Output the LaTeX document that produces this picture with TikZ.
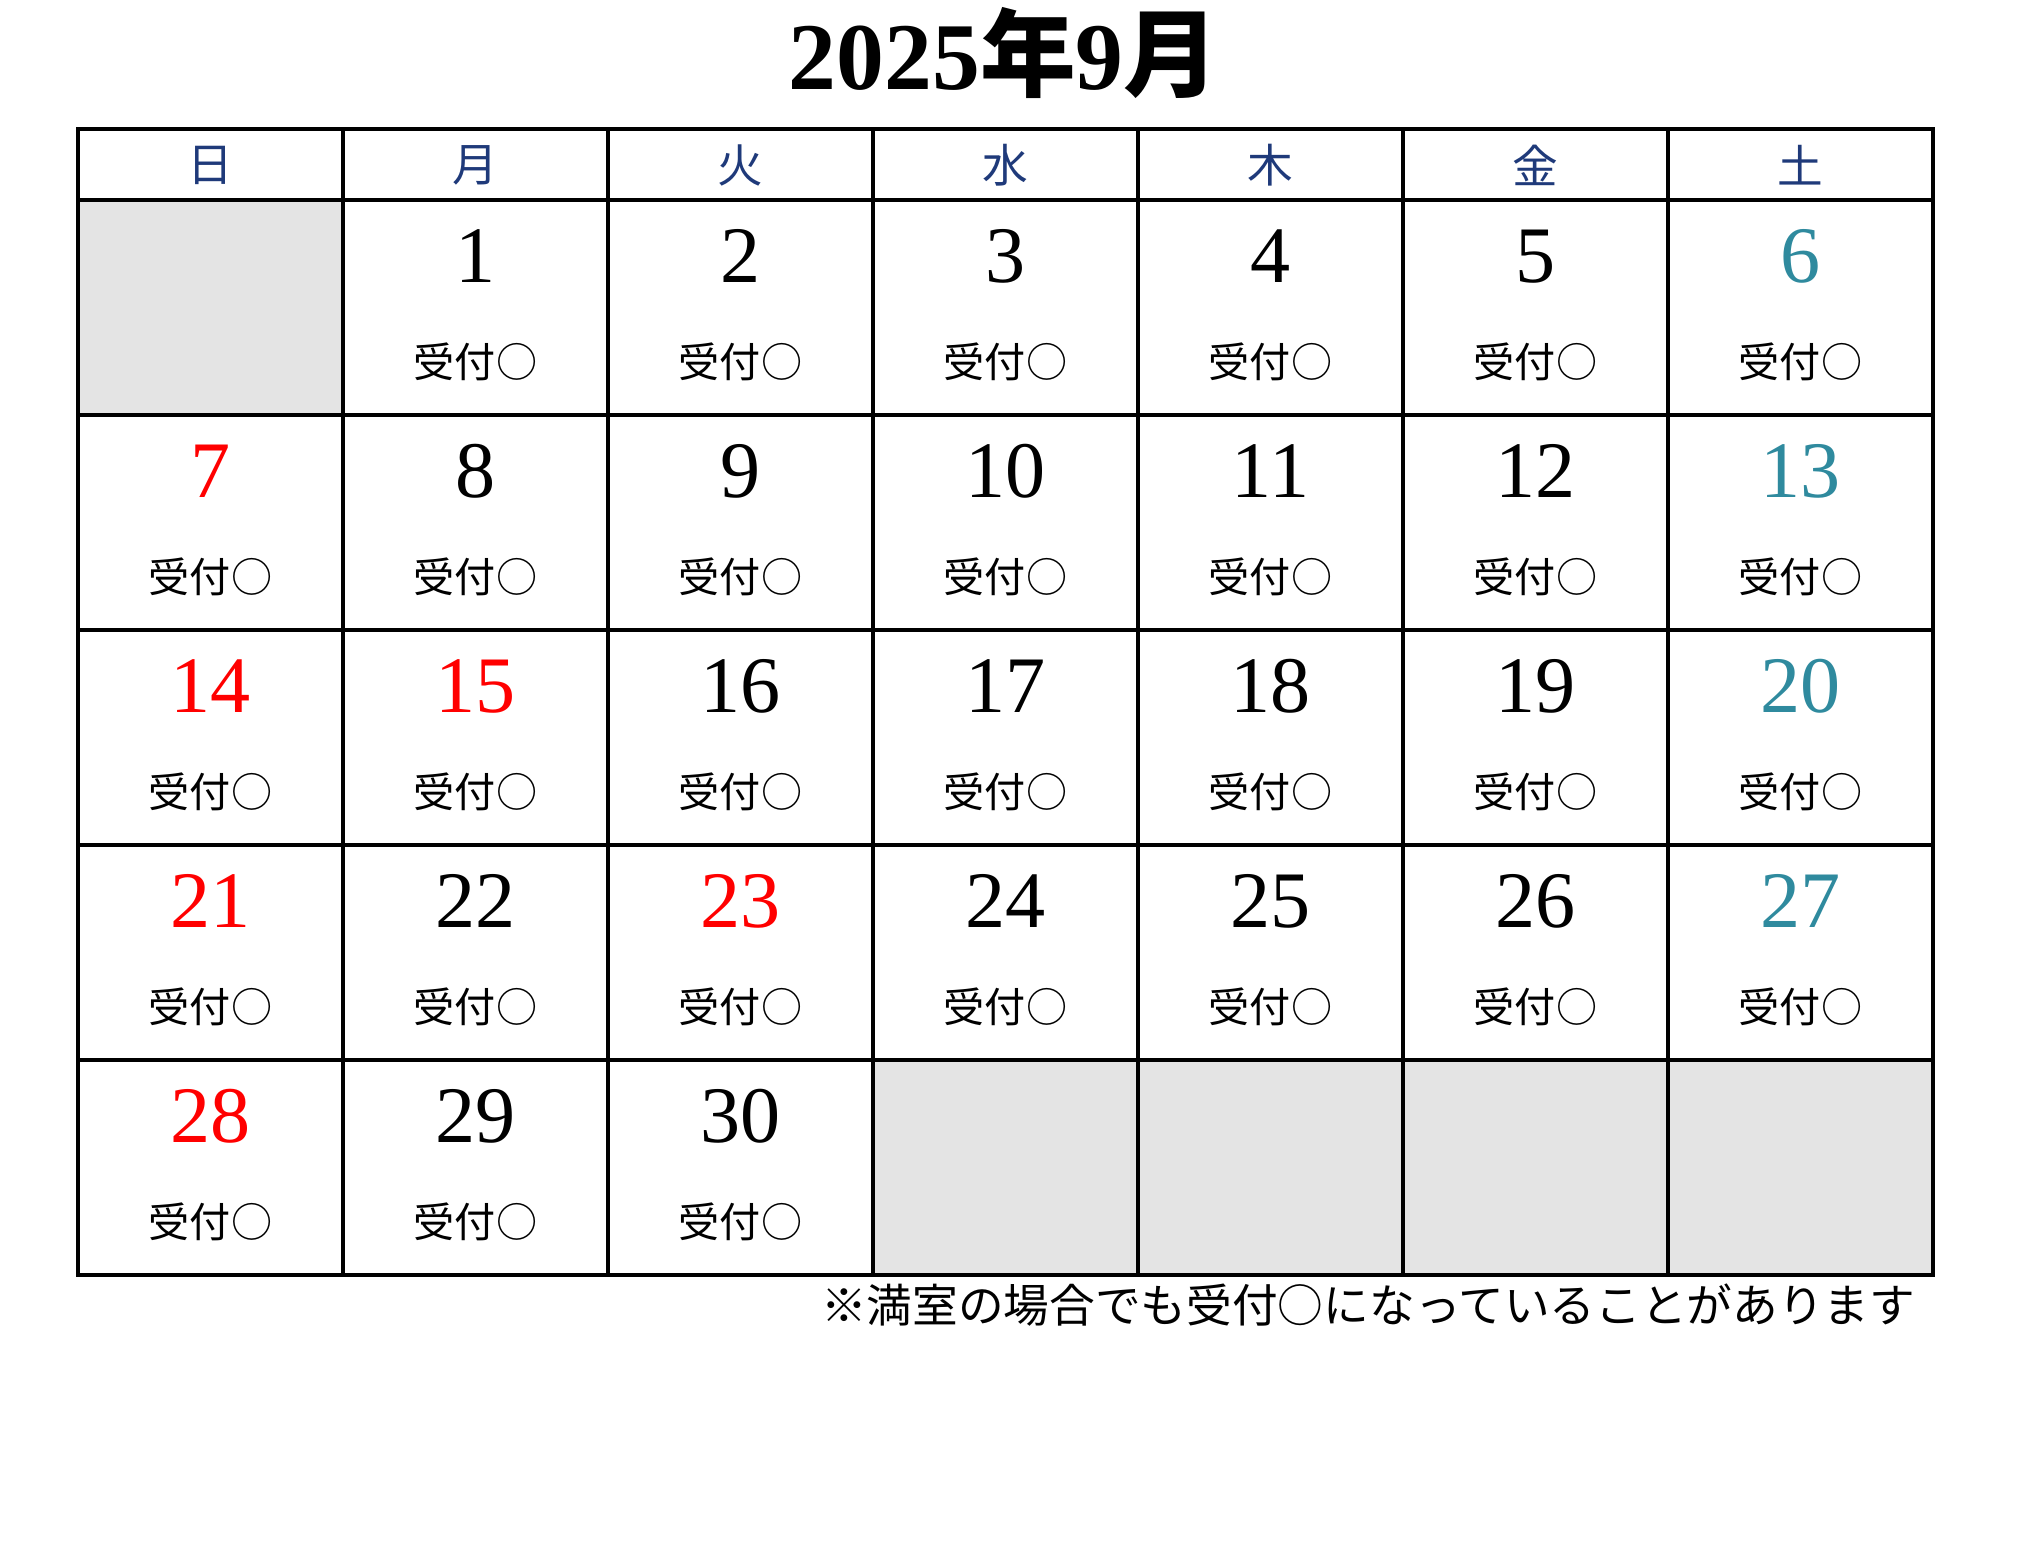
\documentclass[tikz,border=0pt]{standalone}
\usepackage{fontspec}
\setmainfont{Liberation Serif}
\newfontfamily\jpfont{Noto Sans CJK JP}
\usepackage{tikz}
\usetikzlibrary{positioning}
\definecolor{navy}{HTML}{1F3A7A}
\definecolor{satblue}{HTML}{2F8A9E}
\definecolor{holred}{HTML}{FF0000}
\definecolor{blank}{HTML}{E4E4E4}
\tikzstyle{num}=[inner sep=0pt, anchor=base, font=\fontsize{22.8}{24}\selectfont]
\tikzstyle{uke}=[inner sep=0pt, font=\jpfont\fontsize{11.7}{12}\selectfont]
\tikzstyle{wday}=[inner sep=0pt, text=navy, font=\jpfont\fontsize{13}{14}\selectfont]
\tikzset{calline/.style={line width=0.4mm}}

\begin{document}
\begin{tikzpicture}[x=0.1mm, y=0.1mm]
\useasboundingbox (0,0) rectangle (2036,-1551);
% title
\node[inner sep=0pt, anchor=base, font=\bfseries\fontsize{27.2}{28}\selectfont] (ttl) at (1004,-89) {2025{\jpfont 年}9{\jpfont 月}};
% empty days
\fill[blank] (78,-200) rectangle (343,-415);
\fill[blank] (873,-1060) rectangle (1933,-1275);
% grid
\draw[calline] (78,-129) rectangle (1933,-1275);
\draw[calline] (78,-200) -- (1933,-200);
\draw[calline] (78,-415) -- (1933,-415);
\draw[calline] (78,-630) -- (1933,-630);
\draw[calline] (78,-845) -- (1933,-845);
\draw[calline] (78,-1060) -- (1933,-1060);
\draw[calline] (343,-129) -- (343,-1275);
\draw[calline] (608,-129) -- (608,-1275);
\draw[calline] (873,-129) -- (873,-1275);
\draw[calline] (1138,-129) -- (1138,-1275);
\draw[calline] (1403,-129) -- (1403,-1275);
\draw[calline] (1668,-129) -- (1668,-1275);
% weekdays
\node[wday] (w0) at (210.5,-165) {日};
\node[wday] (w1) at (475.5,-165) {月};
\node[wday] (w2) at (740.5,-165) {火};
\node[wday] (w3) at (1005.5,-165) {水};
\node[wday] (w4) at (1270.5,-165) {木};
\node[wday] (w5) at (1535.5,-165) {金};
\node[wday] (w6) at (1800.5,-165) {土};
% week 1
\node[num] (d1) at (475.5,-282) {1};
\node[num] (d2) at (740.5,-282) {2};
\node[num] (d3) at (1005.5,-282) {3};
\node[num] (d4) at (1270.5,-282) {4};
\node[num] (d5) at (1535.5,-282) {5};
\node[num, text=satblue] (d6) at (1800.5,-282) {6};
\node[uke] (r1) at (475.5,-362) {受付○};
\node[uke] (r2) at (740.5,-362) {受付○};
\node[uke] (r3) at (1005.5,-362) {受付○};
\node[uke] (r4) at (1270.5,-362) {受付○};
\node[uke] (r5) at (1535.5,-362) {受付○};
\node[uke] (r6) at (1800.5,-362) {受付○};
% week 2
\node[num, text=holred] (d7) at (210.5,-497) {7};
\node[num] (d8) at (475.5,-497) {8};
\node[num] (d9) at (740.5,-497) {9};
\node[num] (d10) at (1005.5,-497) {10};
\node[num] (d11) at (1270.5,-497) {11};
\node[num] (d12) at (1535.5,-497) {12};
\node[num, text=satblue] (d13) at (1800.5,-497) {13};
\node[uke] (r7) at (210.5,-577) {受付○};
\node[uke] (r8) at (475.5,-577) {受付○};
\node[uke] (r9) at (740.5,-577) {受付○};
\node[uke] (r10) at (1005.5,-577) {受付○};
\node[uke] (r11) at (1270.5,-577) {受付○};
\node[uke] (r12) at (1535.5,-577) {受付○};
\node[uke] (r13) at (1800.5,-577) {受付○};
% week 3
\node[num, text=holred] (d14) at (210.5,-712) {14};
\node[num, text=holred] (d15) at (475.5,-712) {15};
\node[num] (d16) at (740.5,-712) {16};
\node[num] (d17) at (1005.5,-712) {17};
\node[num] (d18) at (1270.5,-712) {18};
\node[num] (d19) at (1535.5,-712) {19};
\node[num, text=satblue] (d20) at (1800.5,-712) {20};
\node[uke] (r14) at (210.5,-792) {受付○};
\node[uke] (r15) at (475.5,-792) {受付○};
\node[uke] (r16) at (740.5,-792) {受付○};
\node[uke] (r17) at (1005.5,-792) {受付○};
\node[uke] (r18) at (1270.5,-792) {受付○};
\node[uke] (r19) at (1535.5,-792) {受付○};
\node[uke] (r20) at (1800.5,-792) {受付○};
% week 4
\node[num, text=holred] (d21) at (210.5,-927) {21};
\node[num] (d22) at (475.5,-927) {22};
\node[num, text=holred] (d23) at (740.5,-927) {23};
\node[num] (d24) at (1005.5,-927) {24};
\node[num] (d25) at (1270.5,-927) {25};
\node[num] (d26) at (1535.5,-927) {26};
\node[num, text=satblue] (d27) at (1800.5,-927) {27};
\node[uke] (r21) at (210.5,-1007) {受付○};
\node[uke] (r22) at (475.5,-1007) {受付○};
\node[uke] (r23) at (740.5,-1007) {受付○};
\node[uke] (r24) at (1005.5,-1007) {受付○};
\node[uke] (r25) at (1270.5,-1007) {受付○};
\node[uke] (r26) at (1535.5,-1007) {受付○};
\node[uke] (r27) at (1800.5,-1007) {受付○};
% week 5
\node[num, text=holred] (d28) at (210.5,-1142) {28};
\node[num] (d29) at (475.5,-1142) {29};
\node[num] (d30) at (740.5,-1142) {30};
\node[uke] (r28) at (210.5,-1222) {受付○};
\node[uke] (r29) at (475.5,-1222) {受付○};
\node[uke] (r30) at (740.5,-1222) {受付○};
% note
\node[inner sep=0pt, anchor=east, font=\jpfont\fontsize{13}{14}\selectfont] (memo) at (1916,-1305) {※満室の場合でも受付○になっていることがあります};
\end{tikzpicture}
\end{document}
